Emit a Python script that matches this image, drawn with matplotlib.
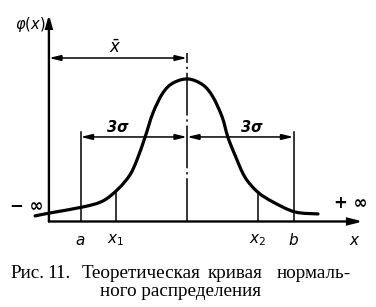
import numpy as np
import matplotlib
matplotlib.use("Agg")
import matplotlib.pyplot as plt
from matplotlib.patches import FancyArrowPatch, PathPatch
from matplotlib.path import Path

plt.rcParams["mathtext.fontset"] = "dejavusans"

# Normal curve, x in units of sigma around the mean, phi relative to its peak
curve_x = [-4.28, -3.86, -2.93, -2.37, -1.94, -1.61, -1.41, -1.18, -0.96,
           -0.68, -0.39, 0.03, 0.45, 0.73, 0.99, 1.15, 1.35, 1.63, 1.99,
           2.42, 3.04, 3.69]
curve_y = [0.039, 0.060, 0.102, 0.144, 0.228, 0.326, 0.432, 0.593, 0.761,
           0.902, 0.972, 1.000, 0.958, 0.874, 0.733, 0.593, 0.467, 0.312,
           0.207, 0.137, 0.067, 0.053]

mean = 0.0
sigma = 1.0
x_a, x_1, x_2, x_b = -3.0, -2.0, 2.0, 3.0
tick_pos = [x_a, x_1, x_2, x_b]
tick_labels = ["$a$", "$x_1$", "$x_2$", "$b$"]

caption_words = ["Рис.", "11.", "Теоретическая", "кривая", "нормаль-"]
caption_line2 = "ного распределения"

fig = plt.figure(figsize=(3.76, 3.07), dpi=100)
ax = fig.add_axes([0, 0, 1, 1])
ax.set_xlim(-5.268, 5.324)
ax.set_ylim(-0.600, 1.554)
ax.axis("off")

ink = "black"
y_axis_x = -3.89
x_axis_end = 4.96
y_axis_top = 1.45


def arrow(p0, p1, style, lw=1.0, hl=7, hw=1.7):
    ax.add_patch(FancyArrowPatch(p0, p1,
                                 arrowstyle=f"{style},head_length={hl},head_width={hw}",
                                 mutation_scale=1, shrinkA=0, shrinkB=0,
                                 lw=lw, color=ink, joinstyle="miter"))


def smooth_path(xs, ys):
    """Cubic Bezier path passing through every given point (Catmull-Rom)."""
    p = np.column_stack([xs, ys])
    ext = np.vstack([p[0], p, p[-1]])
    verts = [p[0]]
    codes = [Path.MOVETO]
    for i in range(1, len(ext) - 2):
        p0, p1, p2, p3 = ext[i - 1], ext[i], ext[i + 1], ext[i + 2]
        verts += [p1 + (p2 - p0) / 6, p2 - (p3 - p1) / 6, p2]
        codes += [Path.CURVE4] * 3
    return Path(verts, codes)


# axes
arrow((y_axis_x, 0), (y_axis_x, y_axis_top), "-|>", lw=1.7, hl=7, hw=2.0)
arrow((y_axis_x, 0), (x_axis_end, 0), "-|>", lw=1.7, hl=8, hw=2.0)

# curve
ax.add_patch(PathPatch(smooth_path(curve_x, curve_y), fill=False,
                       edgecolor=ink, lw=2.3, capstyle="round"))

# centre line at the mean
ax.plot([mean, mean], [0, 1.18], color=ink, lw=1.1,
        dashes=(28, 2.5, 1.5, 2.5))

# vertical lines at a, b, x1, x2
ax.plot([x_a, x_a], [0, 0.63], color=ink, lw=1.1)
ax.plot([x_b, x_b], [0, 0.63], color=ink, lw=1.1)
for xv in (x_1, x_2):
    ax.plot([xv, xv], [0, np.interp(xv, curve_x, curve_y)], color=ink, lw=1.1)

# dimension arrows
y_bar = 1.147
arrow((y_axis_x, y_bar), (mean, y_bar), "<|-|>", lw=1.1)
y_3s = 0.593
arrow((mean - 3 * sigma, y_3s), (mean, y_3s), "<|-|>", lw=1.1)
arrow((mean, y_3s), (mean + 3 * sigma, y_3s), "<|-|>", lw=1.1)

lab = dict(color=ink, fontsize=10.5, style="italic", fontweight="bold")
ax.text(-2.03, 1.22, r"$\bar{x}$", ha="center", va="center", fontsize=12)
ax.text(-1.94, 0.66, "3σ", ha="center", va="center", **lab)
ax.text(1.83, 0.66, "3σ", ha="center", va="center", **lab)
ax.text(-4.0, 1.38, r"$\varphi(x)$", ha="right", va="center", fontsize=10.5)
ax.text(-4.52, 0.11, "− ∞", ha="center", va="center", fontsize=12,
        fontweight="bold", color=ink)
ax.text(4.62, 0.13, "+ ∞", ha="center", va="center", fontsize=12,
        fontweight="bold", color=ink)

for xp, tl in zip(tick_pos, tick_labels):
    ax.text(xp, -0.13, tl, ha="center", va="center", fontsize=11)
ax.text(4.73, -0.13, "$x$", ha="center", va="center", fontsize=11)

# caption, first line justified word by word
cap = dict(family="Liberation Serif", fontsize=13.8, color=ink, va="baseline")
word_x = [10, 47, 82, 208, 277]
for wx, w in zip(word_x, caption_words):
    fig.text(wx / 376, 1 - 278 / 307, w, ha="left", **cap)
fig.text(180 / 376, 1 - 296 / 307, caption_line2, ha="center", **cap)

fig.savefig("out.png", dpi=100)
